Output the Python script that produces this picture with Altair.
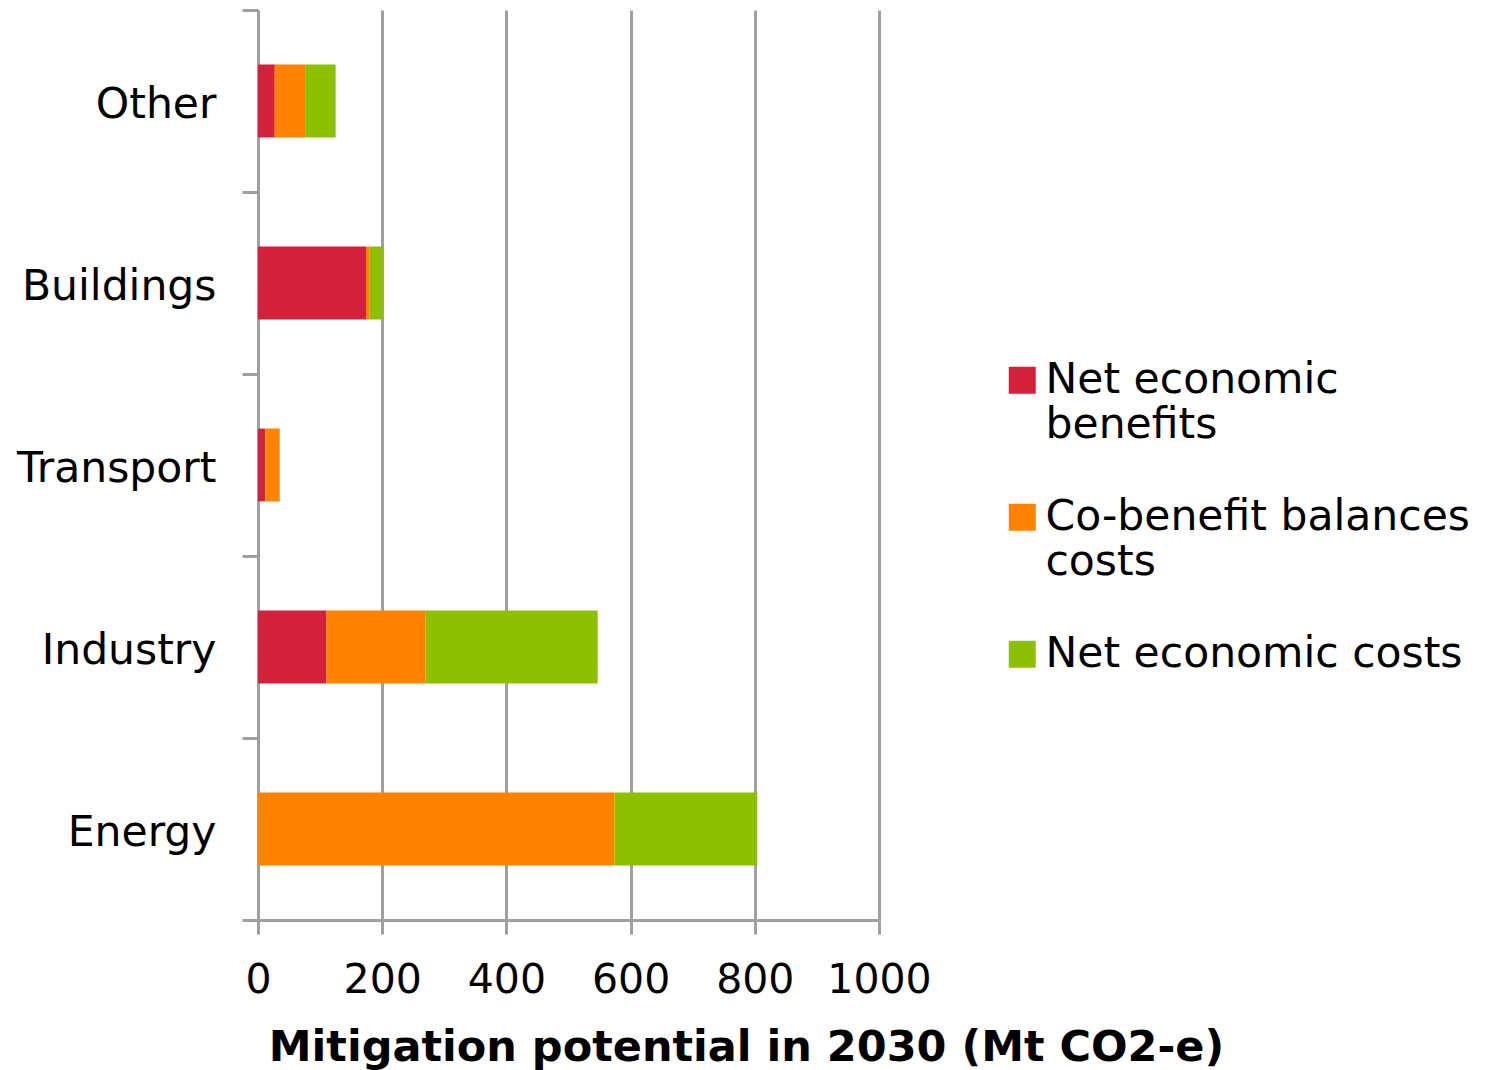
import altair as alt
import pandas as pd

sectors = ["Other", "Buildings", "Transport", "Industry", "Energy"]
series = ["Net economic benefits", "Co-benefit balances costs", "Net economic costs"]
net_benefits = [27, 174, 12, 110, 0]
co_benefit = [49, 6, 23, 160, 574]
net_costs = [49, 21, 0, 277, 230]
colors = ["#D4213B", "#FF8300", "#8CC000"]
x_ticks = [0, 200, 400, 600, 800, 1000]

rows = []
for i, s in enumerate(sectors):
    for j, (name, vals) in enumerate(zip(series, [net_benefits, co_benefit, net_costs])):
        rows.append({"sector": s, "series": name, "value": vals[i], "order": j})
df = pd.DataFrame(rows)

FONT = "DejaVu Sans"
GRID = "#A0A0A0"

label_expr = (
    "datum.label == 'Net economic benefits' ? ['Net economic', 'benefits'] : "
    "datum.label == 'Co-benefit balances costs' ? ['Co-benefit balances', 'costs'] : datum.label"
)

chart = alt.Chart(df).mark_bar(height=alt.RelativeBandSize(0.4)).encode(
    x=alt.X(
        "value:Q",
        stack="zero",
        scale=alt.Scale(domain=[0, 1000], nice=False),
        axis=alt.Axis(
            values=x_ticks,
            format="d",
            title="Mitigation potential in 2030 (Mt CO2-e)",
            grid=True,
            gridColor=GRID,
            gridWidth=3,
            domainColor=GRID,
            domainWidth=3,
            tickColor=GRID,
            tickWidth=3,
            tickSize=14,
            labelFontSize=41,
            labelFont=FONT,
            labelColor="black",
            labelPadding=26,
            labelFlush=False,
            titleFont=FONT,
            titleFontSize=43,
            titleFontWeight="bold",
            titleColor="black",
            titlePadding=26,
            titleX=488,
            titleAlign="center",
        ),
    ),
    y=alt.Y(
        "sector:N",
        sort=sectors,
        scale=alt.Scale(paddingInner=0, paddingOuter=0),
        axis=alt.Axis(
            title=None,
            tickBand="extent",
            grid=False,
            domainColor=GRID,
            domainWidth=3,
            tickColor=GRID,
            tickWidth=3,
            tickSize=16,
            labelFontSize=42.5,
            labelFont=FONT,
            labelColor="black",
            labelPadding=26,
            labelOffset=3,
            labelLimit=0,
        ),
    ),
    color=alt.Color(
        "series:N",
        scale=alt.Scale(domain=series, range=colors),
        legend=alt.Legend(
            title=None,
            orient="none",
            legendX=743,
            legendY=349,
            symbolType="square",
            symbolSize=729,
            symbolStrokeWidth=0,
            symbolOpacity=1,
            labelFontSize=42.5,
            labelFont=FONT,
            labelColor="black",
            labelLimit=0,
            labelOffset=2,
            labelExpr=label_expr,
            rowPadding=49,
            padding=0,
        ),
    ),
    order=alt.Order("order:Q"),
).properties(
    width=621,
    height=910,
    autosize=alt.AutoSizeParams(type="none"),
    padding={"left": 258, "top": 10, "right": 606, "bottom": 150},
).configure_view(stroke=None)

chart.save("out.html", embed_options={"renderer": "svg", "actions": False})
